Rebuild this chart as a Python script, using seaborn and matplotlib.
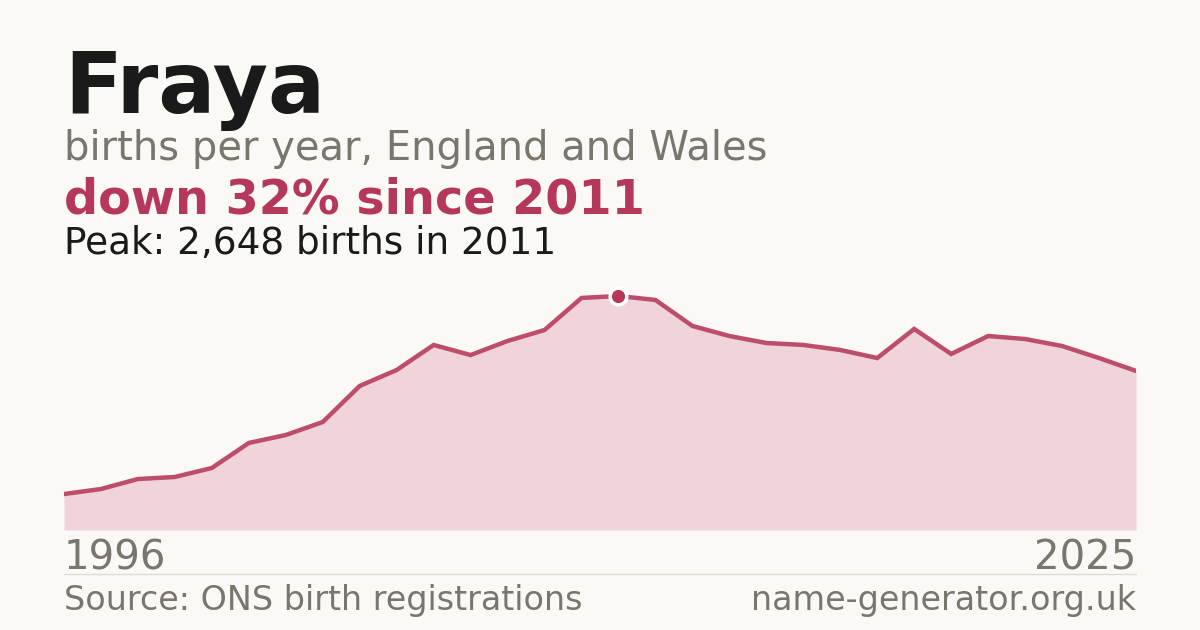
import pandas as pd
import seaborn as sns
import matplotlib.pyplot as plt

# Data
years = list(range(1996, 2026))
births = [407, 464, 577, 600, 702, 985, 1075, 1222, 1630, 1811,
          2094, 1980, 2139, 2263, 2626, 2648, 2603, 2309, 2195, 2116,
          2094, 2037, 1946, 2275, 1992, 2195, 2161, 2082, 1946, 1800]
peak_year = 2011
peak_value = 2648

df = pd.DataFrame({"year": years, "births": births})

bg = "#faf9f5"
red = "#b5385a"
grey = "#7a756d"

sns.set_theme(style="white")
plt.rcParams["font.family"] = ["DejaVu Sans"]

fig = plt.figure(figsize=(12, 6.3), dpi=100, facecolor=bg)
ax = fig.add_axes([64 / 1200, 100 / 630, 1072 / 1200, 250 / 630])
ax.set_facecolor(bg)

# Area + line
ax.fill_between(df["year"], df["births"], 0, color="#f0d4da", linewidth=0)
sns.lineplot(data=df, x="year", y="births", ax=ax, color="#bd4d6c",
             linewidth=3.2, solid_joinstyle="miter")
ax.plot([peak_year], [peak_value], "o", color=red, markersize=12,
        markeredgecolor="white", markeredgewidth=2.5, zorder=5)

ax.set_xlim(years[0], years[-1])
ax.set_ylim(0, 2829)
ax.set_axis_off()

# Header texts
fig.text(64 / 1200, 1 - 113 / 630, "Fraya", fontsize=61, fontweight="bold",
         color="#1a1a1a", va="baseline")
fig.text(64 / 1200, 1 - 160 / 630, "births per year, England and Wales",
         fontsize=28.8, color=grey, va="baseline")
fig.text(64 / 1200, 1 - 214 / 630, "down 32% since 2011", fontsize=34.4,
         fontweight="bold", color=red, va="baseline")
fig.text(64 / 1200, 1 - 254 / 630, "Peak: 2,648 births in 2011",
         fontsize=26.9, color="#1a1a1a", va="baseline")

# Year labels
fig.text(64 / 1200, 1 - 570 / 630, str(years[0]), fontsize=28.9, color=grey,
         va="baseline", ha="left")
fig.text(1136 / 1200, 1 - 570 / 630, str(years[-1]), fontsize=28.9, color=grey,
         va="baseline", ha="right")

# Divider
fig.add_artist(plt.Line2D([64 / 1200, 1136 / 1200], [1 - 574 / 630, 1 - 574 / 630],
                          color="#dedbd4", linewidth=1))

# Footer
fig.text(64 / 1200, 1 - 610 / 630, "Source: ONS birth registrations",
         fontsize=24, color=grey, va="baseline", ha="left")
fig.text(1136 / 1200, 1 - 610 / 630, "name-generator.org.uk",
         fontsize=24, color=grey, va="baseline", ha="right")

fig.savefig("out.png", dpi=100, facecolor=bg)
